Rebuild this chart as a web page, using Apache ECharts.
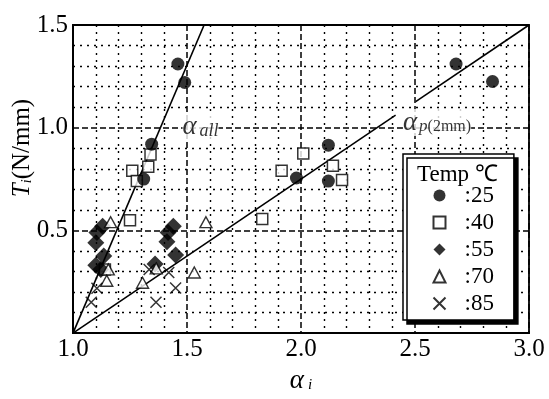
<!DOCTYPE html>
<html>
<head>
<meta charset="utf-8">
<script src="https://cdn.jsdelivr.net/npm/echarts@6/dist/echarts.min.js"></script>
<style>
  html, body { margin: 0; padding: 0; background: #fff; }
  #chart { width: 549px; height: 399px; }
</style>
</head>
<body>
<div id="chart"></div>
<script>
// Measured pull-out strength T_i against amplification factor alpha_i, grouped by temperature.
const temp25 = [[1.46, 1.31], [1.49, 1.22], [1.345, 0.92], [1.31, 0.75], [1.98, 0.755],
                [2.12, 0.915], [2.12, 0.74], [2.68, 1.31], [2.84, 1.225]];
const temp40 = [[1.34, 0.87], [1.33, 0.81], [1.26, 0.79], [1.28, 0.74], [1.25, 0.55],
                [1.14, 0.31], [1.83, 0.555], [1.915, 0.79], [2.01, 0.875], [2.14, 0.815], [2.18, 0.745]];
const temp55 = [[1.13, 0.52], [1.105, 0.49], [1.1, 0.44], [1.135, 0.375], [1.1, 0.33], [1.122, 0.31],
                [1.44, 0.52], [1.417, 0.49], [1.412, 0.445], [1.45, 0.38], [1.36, 0.337]];
const temp70 = [[1.165, 0.54], [1.155, 0.31], [1.148, 0.255], [1.365, 0.315], [1.305, 0.245],
                [1.532, 0.295], [1.583, 0.54]];
const temp85 = [[1.08, 0.15], [1.105, 0.218], [1.334, 0.31], [1.42, 0.295], [1.45, 0.22], [1.364, 0.15]];

// Regression lines (the alpha_p line is broken where its label sits)
const lineAll = [[1.0, 0.0], [1.575, 1.5]];
const linePLower = [[1.0, 0.0], [2.415, 1.061]];
const linePUpper = [[2.503, 1.127], [3.0, 1.5]];

// Anchor points for the line labels
const labelAllPos = [1.48, 1.005];
const labelPPos = [2.447, 1.025];

const legendNames = [':25', ':40', ':55', ':70', ':85'];
const xTicks = { min: 1.0, max: 3.0, step: 0.5 };
const yTicks = { min: 0.0, max: 1.5, step: 0.5 };

const serif = "'Liberation Serif', 'Times New Roman', serif";
const DIAMOND = 'path://M5,0L10,5L5,10L0,5Z';
const CROSS = 'path://M0,0L10,10M10,0L0,10';

const chart = echarts.init(document.getElementById('chart'), null, { renderer: 'canvas' });

const axisCommon = {
  type: 'value',
  axisLine: { show: true, lineStyle: { color: '#000', width: 2 } },
  axisTick: { show: false },
  splitLine: { show: true, lineStyle: { color: '#000', type: [6, 3], width: 1.5 } },
  minorTick: { show: false, splitNumber: 5 },
  minorSplitLine: { show: true, lineStyle: { color: '#000', type: [2, 5], width: 1.4 } },
  axisLabel: { color: '#000', fontFamily: serif, fontSize: 25 }
};

const option = {
  animation: false,
  backgroundColor: '#fff',
  grid: {
    left: 73, right: 20, top: 25, bottom: 52,
    show: true, borderColor: '#000', borderWidth: 1.8, backgroundColor: 'transparent'
  },
  title: {
    text: 'Temp \u2103',
    left: 412, top: 158,
    textStyle: { fontFamily: serif, fontSize: 23, fontWeight: 'normal', color: '#000' },
    z: 10
  },
  legend: {
    orient: 'vertical',
    left: 403, top: 154,
    data: legendNames,
    itemWidth: 12, itemHeight: 12, itemGap: 4,
    padding: [30, 20, 5, 28],
    backgroundColor: '#fff',
    borderColor: '#000', borderWidth: 1.5,
    shadowColor: '#000', shadowOffsetX: 4, shadowOffsetY: 4, shadowBlur: 0,
    selectedMode: false,
    textStyle: { fontFamily: serif, fontSize: 23, color: '#000', lineHeight: 21.5, padding: [0, 0, 0, 14] }
  },
  xAxis: Object.assign({}, axisCommon, {
    min: xTicks.min, max: xTicks.max, interval: xTicks.step,
    axisLabel: Object.assign({}, axisCommon.axisLabel, {
      margin: 4, formatter: v => v.toFixed(1)
    }),
    name: '{a|\u03b1}{i|i}',
    nameLocation: 'middle',
    nameGap: 32,
    nameTextStyle: {
      rich: {
        a: { fontFamily: serif, fontStyle: 'italic', fontSize: 27, color: '#000' },
        i: { fontFamily: serif, fontStyle: 'italic', fontSize: 15, color: '#000', padding: [10, 0, 0, 4] }
      }
    }
  }),
  yAxis: Object.assign({}, axisCommon, {
    min: yTicks.min, max: yTicks.max, interval: yTicks.step,
    axisLabel: Object.assign({}, axisCommon.axisLabel, {
      margin: 5, formatter: v => (v === 0 ? '' : v.toFixed(1))
    })
  }),
  graphic: [{
    type: 'text',
    x: 22, y: 148,
    rotation: Math.PI / 2,
    style: {
      text: '{t|T}{i|i}{n|(N/mm)}',
      align: 'center', verticalAlign: 'middle',
      rich: {
        t: { fontFamily: serif, fontStyle: 'italic', fontSize: 25, fill: '#000' },
        i: { fontFamily: serif, fontStyle: 'italic', fontSize: 14, fill: '#000', padding: [10, 0, 0, 0] },
        n: { fontFamily: serif, fontSize: 25, fill: '#000' }
      }
    }
  }],
  series: [
    {
      type: 'line', data: lineAll, symbol: 'none', silent: true, z: 3,
      lineStyle: { color: '#000', width: 1.6 }
    },
    {
      type: 'line', data: linePLower, symbol: 'none', silent: true, z: 3,
      lineStyle: { color: '#000', width: 1.6 }
    },
    {
      type: 'line', data: linePUpper, symbol: 'none', silent: true, z: 3,
      lineStyle: { color: '#000', width: 1.6 }
    },
    {
      name: ':40', type: 'scatter', data: temp40, symbol: 'rect', symbolSize: 11, z: 4,
      itemStyle: { color: '#fff', borderColor: '#000', borderWidth: 1.5 }
    },
    {
      name: ':25', type: 'scatter', data: temp25, symbol: 'circle', symbolSize: 13, z: 5,
      itemStyle: { color: '#000' }
    },
    {
      name: ':55', type: 'scatter', data: temp55, symbol: DIAMOND, symbolSize: 17, z: 5,
      itemStyle: { color: '#000' }
    },
    {
      name: ':70', type: 'scatter', data: temp70, symbol: 'triangle', symbolSize: [12, 11], z: 6,
      itemStyle: { color: '#fff', borderColor: '#000', borderWidth: 1.4 }
    },
    {
      name: ':85', type: 'scatter', data: temp85, symbol: CROSS, symbolSize: 11, z: 7,
      itemStyle: { color: 'none', borderColor: '#000', borderWidth: 1.5 }
    },
    {
      type: 'scatter', silent: true, symbolSize: 0, z: 8,
      data: [labelAllPos],
      label: {
        show: true, position: 'right', distance: 0,
        formatter: '{a|\u03b1}{s|all}',
        backgroundColor: '#fff',
        rich: {
          a: { fontFamily: serif, fontStyle: 'italic', fontSize: 27, color: '#000' },
          s: { fontFamily: serif, fontStyle: 'italic', fontSize: 18, color: '#000', padding: [10, 0, 0, 3] }
        }
      }
    },
    {
      type: 'scatter', silent: true, symbolSize: 0, z: 8,
      data: [labelPPos],
      label: {
        show: true, position: 'right', distance: 0,
        formatter: '{a|\u03b1}{p|p}{s|(2mm)}',
        backgroundColor: '#fff',
        rich: {
          a: { fontFamily: serif, fontStyle: 'italic', fontSize: 27, color: '#000' },
          p: { fontFamily: serif, fontStyle: 'italic', fontSize: 17, color: '#000', padding: [8, 0, 0, 2] },
          s: { fontFamily: serif, fontSize: 16, color: '#000', padding: [8, 0, 0, 0] }
        }
      }
    }
  ]
};

chart.setOption(option);
</script>
</body>
</html>
